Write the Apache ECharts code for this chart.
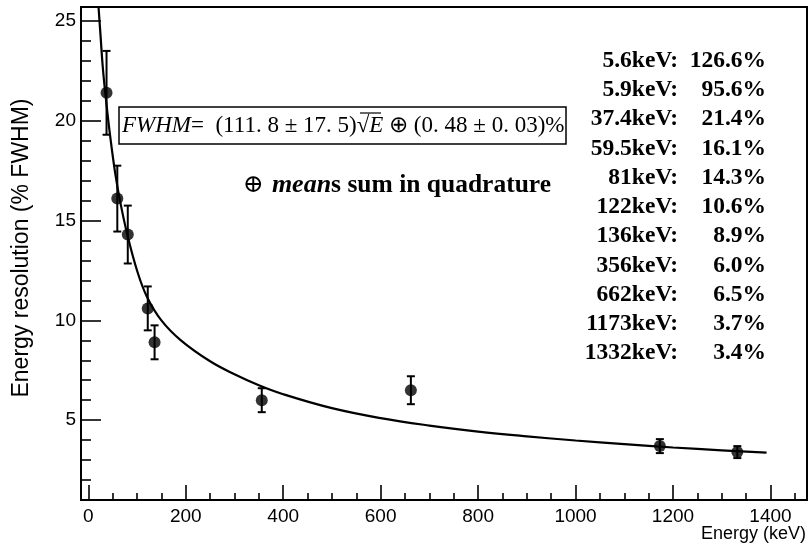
<!DOCTYPE html>
<html><head><meta charset="utf-8">
<script src="https://cdn.jsdelivr.net/npm/echarts@6/dist/echarts.min.js"></script>
<style>html,body{margin:0;padding:0;background:#fff}#c{width:810px;height:544px}</style>
</head><body><div id="c"></div>
<script>
// measured data points
const energies    = [37.4, 59.5, 81, 122, 136, 356, 662, 1173, 1332];
const resolutions = [21.4, 16.1, 14.3, 10.6, 8.9, 6.0, 6.5, 3.7, 3.4];
const errors      = [2.1, 1.65, 1.45, 1.1, 0.85, 0.6, 0.7, 0.35, 0.3];
// fit curve
const fitEnergies = [21, 25, 30, 37, 45, 55, 65, 80, 100, 120, 150, 190, 250, 300, 350, 400, 500, 600, 700, 800, 900, 1000, 1100, 1200, 1300, 1392];
const fitValues   = [25.7, 24.3, 22.6, 20.9, 19.2, 17.4, 16.0, 14.3, 12.5, 11.2, 10.0, 9.0, 7.95, 7.3, 6.75, 6.3, 5.6, 5.1, 4.73, 4.43, 4.19, 3.98, 3.8, 3.63, 3.49, 3.37];
// axis ticks
const xMajorTicks = [0, 200, 400, 600, 800, 1000, 1200, 1400];
const xMinorTicks = [50, 100, 150, 250, 300, 350, 450, 500, 550, 650, 700, 750, 850, 900, 950, 1050, 1100, 1150, 1250, 1300, 1350, 1450];
const yMajorTicks = [5, 10, 15, 20, 25];
const yMinorTicks = [2, 3, 4, 6, 7, 8, 9, 11, 12, 13, 14, 16, 17, 18, 19, 21, 22, 23, 24];
// annotation table
const tableLabels = ['5.6keV:', '5.9keV:', '37.4keV:', '59.5keV:', '81keV:', '122keV:', '136keV:', '356keV:', '662keV:', '1173keV:', '1332keV:'];
const tableValues = ['126.6%', '95.6%', '21.4%', '16.1%', '14.3%', '10.6%', '8.9%', '6.0%', '6.5%', '3.7%', '3.4%'];

const chart = echarts.init(document.getElementById('c'));
const X_MIN = -15, X_MAX = 1475, Y_MIN = 1, Y_MAX = 25.7;
const sans = 'Liberation Sans', serif = 'Liberation Serif';

const graphics = [];
graphics.push({
  type:'text', x: 22, y: 248, rotation: Math.PI/2,
  style:{text:'Energy resolution (% FWHM)', font:'23px ' + sans, fill:'#000', align:'center', verticalAlign:'middle'}
});
graphics.push({
  type:'text', x: 806, y: 534,
  style:{text:'Energy (keV)', font:'18px ' + sans, fill:'#000', align:'right', verticalAlign:'middle'}
});
// equation box
graphics.push({type:'rect', shape:{x:119, y:107, width:447, height:37}, style:{fill:'#fff', stroke:'#000', lineWidth:1.5}, z: 10});
graphics.push({
  type:'text', x: 122, y: 126, z: 11,
  style:{
    text:'{i|FWHM}{n|=  (111. 8 ± 17. 5)√}{i|E}{n| ⊕ (0. 48 ± 0. 03)%}',
    verticalAlign:'middle', align:'left',
    rich:{
      i:{fontFamily:serif, fontStyle:'italic', fontSize:23, fill:'#000'},
      n:{fontFamily:serif, fontSize:23, fill:'#000'}
    }
  }
});
graphics.push({type:'line', z: 12, shape:{x1:360, y1:113, x2:381, y2:113}, style:{stroke:'#000', lineWidth:1.2}});
graphics.push({
  type:'text', x: 243, y: 185, z: 11,
  style:{
    text:'{o|⊕ }{m|mean}{b|s sum in quadrature}',
    verticalAlign:'middle', align:'left',
    rich:{
      o:{fontFamily:'DejaVu Serif', fontSize:25, fill:'#000'},
      m:{fontFamily:serif, fontStyle:'italic', fontWeight:'bold', fontSize:26, fill:'#000'},
      b:{fontFamily:serif, fontWeight:'bold', fontSize:25.5, fill:'#000'}
    }
  }
});
tableLabels.forEach((lab, i) => {
  const y = 60.7 + i * 29.26;
  graphics.push({type:'text', x: 678, y: y, z: 11, style:{text: lab, font:'bold 23.5px ' + serif, fill:'#000', align:'right', verticalAlign:'middle'}});
  graphics.push({type:'text', x: 766, y: y, z: 11, style:{text: tableValues[i], font:'bold 23.5px ' + serif, fill:'#000', align:'right', verticalAlign:'middle'}});
});

const tickStyle = {color:'#000', width:1.6};
const plain = v => String(v);
const option = {
  animation: false,
  backgroundColor: '#fff',
  grid: {left: 81, right: 3, top: 7, bottom: 44, show: true, borderColor: '#000', borderWidth: 2, containLabel: false},
  xAxis: [
    {type:'value', min:X_MIN, max:X_MAX, position:'bottom',
     axisLine:{show:false}, splitLine:{show:false},
     axisTick:{show:true, inside:true, length:15, customValues:xMajorTicks, lineStyle:tickStyle},
     axisLabel:{show:true, customValues:xMajorTicks, formatter:plain, color:'#000', fontSize:19, fontFamily:sans, margin:7}},
    {type:'value', min:X_MIN, max:X_MAX, position:'bottom', offset:0,
     axisLine:{show:false}, splitLine:{show:false},
     axisTick:{show:true, inside:true, length:7, customValues:xMinorTicks, lineStyle:tickStyle},
     axisLabel:{show:false}}
  ],
  yAxis: [
    {type:'value', min:Y_MIN, max:Y_MAX, position:'left',
     axisLine:{show:false, onZero:false}, splitLine:{show:false},
     axisTick:{show:true, inside:true, length:20, customValues:yMajorTicks, lineStyle:tickStyle},
     axisLabel:{show:true, customValues:yMajorTicks, formatter:plain, color:'#000', fontSize:19, fontFamily:sans, margin:5}},
    {type:'value', min:Y_MIN, max:Y_MAX, position:'left', offset:0,
     axisLine:{show:false, onZero:false}, splitLine:{show:false},
     axisTick:{show:true, inside:true, length:10, customValues:yMinorTicks, lineStyle:tickStyle},
     axisLabel:{show:false}}
  ],
  series: [
    {type:'line', xAxisIndex:0, yAxisIndex:0, data: fitEnergies.map((e, i) => [e, fitValues[i]]),
     smooth: 0.4, showSymbol:false, symbol:'none', lineStyle:{color:'#000', width:2.2}, clip:true, z:2},
    {type:'custom', xAxisIndex:0, yAxisIndex:0, z:3,
     data: energies.map((e, i) => [e, resolutions[i], errors[i]]),
     renderItem: function (params, api) {
       const x = api.value(0), y = api.value(1), err = api.value(2);
       const t = api.coord([x, y + err]), b = api.coord([x, y - err]);
       const cap = 4, st = {stroke:'#000', lineWidth:2};
       return {type:'group', children:[
         {type:'line', shape:{x1:t[0], y1:t[1], x2:b[0], y2:b[1]}, style:st},
         {type:'line', shape:{x1:t[0]-cap, y1:t[1], x2:t[0]+cap, y2:t[1]}, style:st},
         {type:'line', shape:{x1:b[0]-cap, y1:b[1], x2:b[0]+cap, y2:b[1]}, style:st}
       ]};
     }},
    {type:'scatter', xAxisIndex:0, yAxisIndex:0, z:4, symbol:'circle', symbolSize:12,
     itemStyle:{color:'#000'}, data: energies.map((e, i) => [e, resolutions[i]])}
  ],
  graphic: graphics
};
chart.setOption(option);
</script>
</body></html>
